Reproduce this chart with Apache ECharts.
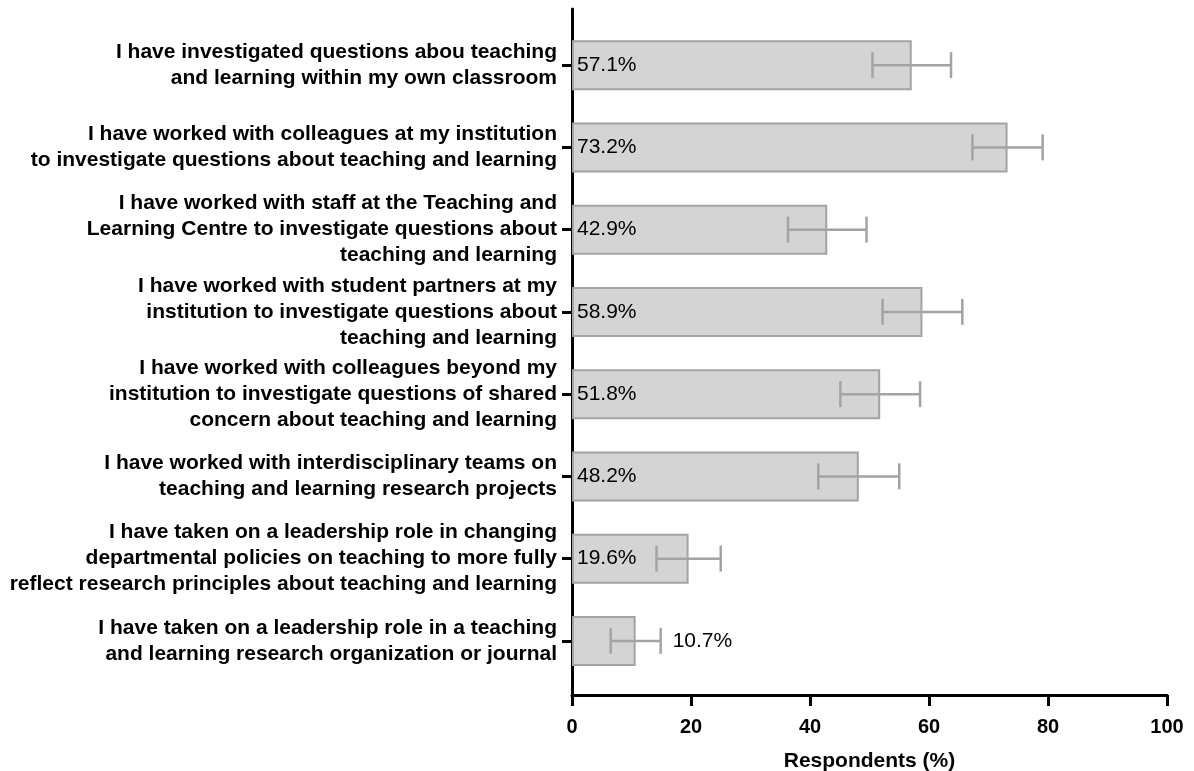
<!DOCTYPE html>
<html>
<head>
<meta charset="utf-8">
<script src="https://cdn.jsdelivr.net/npm/echarts@6.0.0/dist/echarts.min.js"></script>
<style>
  html, body { margin: 0; padding: 0; background: #fff; }
  #chart { width: 1194px; height: 771px; }
</style>
</head>
<body>
<div id="chart"></div>
<script>
const categories = [
  'I have investigated questions abou teaching\nand learning within my own classroom',
  'I have worked with colleagues at my institution\nto investigate questions about teaching and learning',
  'I have worked with staff at the Teaching and\nLearning Centre to investigate questions about\nteaching and learning',
  'I have worked with student partners at my\ninstitution to investigate questions about\nteaching and learning',
  'I have worked with colleagues beyond my\ninstitution to investigate questions of shared\nconcern about teaching and learning',
  'I have worked with interdisciplinary teams on\nteaching and learning research projects',
  'I have taken on a leadership role in changing\ndepartmental policies on teaching to more fully\nreflect research principles about teaching and learning',
  'I have taken on a leadership role in a teaching\nand learning research organization or journal'
]
const values = [57.1, 73.2, 42.9, 58.9, 51.8, 48.2, 19.6, 10.7]
const errors = [6.6, 5.9, 6.6, 6.7, 6.7, 6.8, 5.4, 4.2]
const xTicks = [0, 20, 40, 60, 80, 100]

const FONT = "'Liberation Sans', Arial, sans-serif"
const chart = echarts.init(document.getElementById('chart'), null, { renderer: 'canvas' })

const barData = values.map((v, i) => {
  const item = { value: v }
  // the last bar is too short for its label, so it goes past the whisker
  if (i === values.length - 1) {
    item.label = { position: 'right', distance: 37 }
  }
  return item
})

const errData = values.map((v, i) => [i, v - errors[i], v + errors[i]])

function renderErr(params, api) {
  const lo = api.coord([api.value(1), api.value(0)])
  const hi = api.coord([api.value(2), api.value(0)])
  const cap = 13
  const style = { stroke: '#a3a3a3', lineWidth: 2.5 }
  return {
    type: 'group',
    children: [
      { type: 'line', shape: { x1: lo[0], y1: lo[1], x2: hi[0], y2: hi[1] }, style },
      { type: 'line', shape: { x1: lo[0], y1: lo[1] - cap, x2: lo[0], y2: lo[1] + cap }, style },
      { type: 'line', shape: { x1: hi[0], y1: hi[1] - cap, x2: hi[0], y2: hi[1] + cap }, style }
    ]
  }
}

chart.setOption({
  animation: false,
  textStyle: { fontFamily: FONT },
  grid: [
    { left: 572, right: 27, top: 24, bottom: 89, outerBoundsMode: 'none', containLabel: false },
    { left: 572, right: 27, top: 9, bottom: 76, outerBoundsMode: 'none', containLabel: false }
  ],
  xAxis: [
    { gridIndex: 0, type: 'value', min: 0, max: 100, show: false },
    {
      gridIndex: 1,
      type: 'value',
      min: 0,
      max: 100,
      interval: 20,
      data: xTicks,
      axisLine: { show: true, onZero: false, lineStyle: { color: '#000', width: 3 } },
      axisTick: { show: true, length: 11, lineStyle: { color: '#000', width: 3 } },
      axisLabel: { color: '#000', fontSize: 20, fontWeight: 'bold', margin: 22, fontFamily: FONT },
      splitLine: { show: false },
      name: 'Respondents (%)',
      nameLocation: 'middle',
      nameGap: 56,
      nameTextStyle: { color: '#000', fontSize: 21, fontWeight: 'bold', fontFamily: FONT }
    }
  ],
  yAxis: [
    {
      gridIndex: 0,
      type: 'category',
      inverse: true,
      data: categories,
      axisLine: { show: false },
      axisTick: { show: true, alignWithLabel: true, length: 10, lineStyle: { color: '#000', width: 3 } },
      axisLabel: {
        color: '#000',
        fontSize: 21,
        fontWeight: 'bold',
        lineHeight: 26,
        margin: 15,
        align: 'right',
        fontFamily: FONT
      },
      splitLine: { show: false }
    },
    {
      gridIndex: 1,
      type: 'value',
      min: 0,
      max: 1,
      axisLine: { show: true, onZero: false, lineStyle: { color: '#000', width: 3 } },
      axisTick: { show: false },
      axisLabel: { show: false },
      splitLine: { show: false }
    }
  ],
  series: [
    {
      type: 'bar',
      xAxisIndex: 0,
      yAxisIndex: 0,
      data: barData,
      barWidth: 50,
      itemStyle: { color: '#d4d4d4', borderColor: '#a3a3a3', borderWidth: 2 },
      label: {
        show: true,
        position: 'insideLeft',
        distance: 5,
        color: '#000',
        fontSize: 21,
        fontFamily: FONT,
        formatter: p => p.value.toFixed(1) + '%'
      },
      z: 2
    },
    {
      type: 'custom',
      xAxisIndex: 0,
      yAxisIndex: 0,
      renderItem: renderErr,
      encode: { x: [1, 2], y: 0 },
      data: errData,
      z: 3
    }
  ]
})
</script>
</body>
</html>
